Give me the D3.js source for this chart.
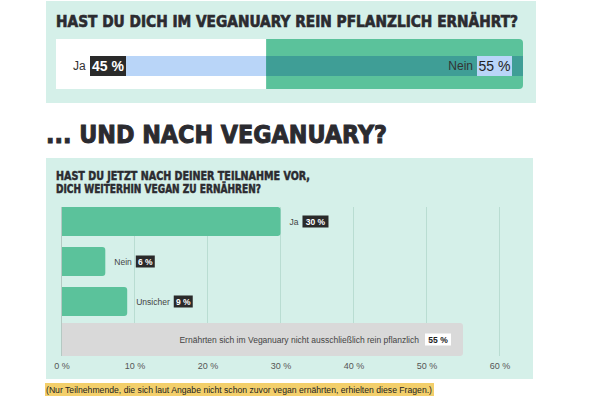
<!DOCTYPE html>
<html><head><meta charset="utf-8">
<script src="https://cdn.jsdelivr.net/npm/d3@7"></script>
<style>
html,body{margin:0;padding:0;background:#fff;}
svg{display:block;}
</style></head>
<body>
<svg id="c" width="600" height="400"></svg>
<script>
// ---- data ----
const topTitle = "HAST DU DICH IM VEGANUARY REIN PFLANZLICH ERNÄHRT?";
const topCategories = ["Ja", "Nein"];
const topValues = [45, 55];

const headline = "... UND NACH VEGANUARY?";
const subtitleLines = ["HAST DU JETZT NACH DEINER TEILNAHME VOR,", "DICH WEITERHIN VEGAN ZU ERNÄHREN?"];
const categories = ["Ja", "Nein", "Unsicher", "Ernährten sich im Veganuary nicht ausschließlich rein pflanzlich"];
const values = [30, 6, 9, 55];
const tickValues = [0, 10, 20, 30, 40, 50, 60];
const tickLabels = ["0 %", "10 %", "20 %", "30 %", "40 %", "50 %", "60 %"];
const footnote = "(Nur Teilnehmende, die sich laut Angabe nicht schon zuvor vegan ernährten, erhielten diese Fragen.)";

// ---- style ----
const mint = "#d5f0e9", green = "#5bc29b", teal = "#3f9e96", blue = "#b9d5f8",
      dark = "#2b2b30", grid = "#b9ddd2", grey = "#d9d9d9";
const titleFont = "'DejaVu Sans Condensed', 'DejaVu Sans', sans-serif";
const bodyFont = "'Liberation Sans', Arial, sans-serif";

const svg = d3.select("#c");

// ===== top panel =====
svg.append("rect").attr("x", 46).attr("y", 1).attr("width", 490).attr("height", 102).attr("fill", mint);
svg.append("text").attr("x", 56).attr("y", 27).text(topTitle)
  .attr("font-family", titleFont).attr("font-weight", "bold").attr("font-size", 15.5)
  .attr("fill", dark).attr("stroke", dark).attr("stroke-width", 0.6)
  .attr("textLength", 462).attr("lengthAdjust", "spacingAndGlyphs");

const xt = d3.scaleLinear().domain([0, 100]).range([56, 523]);
const y0 = 39, h0 = 50, bandY = 56, bandH = 20;
// Ja segment (white)
svg.append("rect").attr("x", xt(0)).attr("y", y0).attr("width", xt(topValues[0]) - xt(0)).attr("height", h0).attr("fill", "#fff");
// Nein segment (green, rounded right)
const gx0 = xt(topValues[0]), gx1 = xt(topValues[0] + topValues[1]), r = 4;
svg.append("path").attr("fill", green)
  .attr("d", `M${gx0},${y0} H${gx1 - r} Q${gx1},${y0} ${gx1},${y0 + r} V${y0 + h0 - r} Q${gx1},${y0 + h0} ${gx1 - r},${y0 + h0} H${gx0} Z`);
// bands
svg.append("rect").attr("x", 90).attr("y", bandY).attr("width", gx0 - 90).attr("height", bandH).attr("fill", blue);
svg.append("rect").attr("x", gx0).attr("y", bandY).attr("width", gx1 - gx0).attr("height", bandH).attr("fill", teal);
// Ja label
svg.append("text").attr("x", 73).attr("y", bandY + 14).text(topCategories[0])
  .attr("font-family", bodyFont).attr("font-size", 12).attr("fill", "#333");
svg.append("rect").attr("x", 90).attr("y", bandY).attr("width", 36).attr("height", bandH).attr("fill", "#2a2a2a");
svg.append("text").attr("x", 108).attr("y", bandY + 15).attr("text-anchor", "middle").text(topValues[0] + " %")
  .attr("font-family", bodyFont).attr("font-weight", "bold").attr("font-size", 14).attr("fill", "#fff");
// Nein label
svg.append("rect").attr("x", 477).attr("y", bandY).attr("width", 35).attr("height", bandH).attr("fill", blue);
svg.append("text").attr("x", 494.5).attr("y", bandY + 15).attr("text-anchor", "middle").text(topValues[1] + " %")
  .attr("font-family", bodyFont).attr("font-size", 14).attr("fill", "#222");
svg.append("text").attr("x", 473).attr("y", bandY + 14).attr("text-anchor", "end").text(topCategories[1])
  .attr("font-family", bodyFont).attr("font-size", 12).attr("fill", "#333");

// ===== headline =====
svg.append("text").attr("x", 46).attr("y", 143).text(headline)
  .attr("font-family", titleFont).attr("font-weight", "bold").attr("font-size", 24)
  .attr("fill", dark).attr("stroke", dark).attr("stroke-width", 0.9)
  .attr("textLength", 341).attr("lengthAdjust", "spacingAndGlyphs");

// ===== bottom panel =====
svg.append("rect").attr("x", 46).attr("y", 158).attr("width", 487).attr("height", 221).attr("fill", mint);
svg.selectAll("text.sub").data(subtitleLines).enter().append("text").attr("class", "sub")
  .attr("x", 56).attr("y", (d, i) => 180 + i * 13.3).text(d => d)
  .attr("font-family", titleFont).attr("font-weight", "bold").attr("font-size", 12.5)
  .attr("fill", dark).attr("stroke", dark).attr("stroke-width", 0.5)
  .attr("textLength", (d, i) => i === 0 ? 254 : 205).attr("lengthAdjust", "spacingAndGlyphs");

const x = d3.scaleLinear().domain([0, 60]).range([61.5, 499.5]);
const y = d3.scaleBand().domain(categories).range([196, 367]).padding(0.275);
const gTop = y(categories[0]), gBot = y(categories[3]) + y.bandwidth();

// grid
svg.append("g").selectAll("line").data(tickValues.filter(d => d > 0)).enter().append("line")
  .attr("x1", d => x(d)).attr("x2", d => x(d)).attr("y1", gTop).attr("y2", gBot)
  .attr("stroke", grid).attr("stroke-width", 1);

// axis
const axis = d3.axisBottom(x).tickValues(tickValues).tickFormat((d, i) => tickLabels[i]).tickSize(0).tickPadding(0);
const ag = svg.append("g").attr("transform", `translate(0,${gBot + 5})`).call(axis);
ag.select(".domain").remove();
ag.selectAll("text").attr("font-family", bodyFont).attr("font-size", 9).attr("fill", "#555").attr("dy", "0.9em");

// bars
function barPath(x0, yy, w, h, rr) {
  const x1 = x0 + w;
  return `M${x0},${yy} H${x1 - rr} Q${x1},${yy} ${x1},${yy + rr} V${yy + h - rr} Q${x1},${yy + h} ${x1 - rr},${yy + h} H${x0} Z`;
}
categories.forEach((c, i) => {
  const last = i === categories.length - 1;
  const yy = last ? y(c) - 4 : y(c);
  const hh = last ? y.bandwidth() + 4 : y.bandwidth();
  svg.append("path").attr("d", barPath(x(0), yy, x(values[i]) - x(0), hh, 3)).attr("fill", last ? grey : green);
});
// zero line
svg.append("line").attr("x1", x(0)).attr("x2", x(0)).attr("y1", gTop).attr("y2", gBot).attr("stroke", "#b5c9c3");

// labels
categories.forEach((c, i) => {
  const last = i === categories.length - 1;
  const cy = y(c) + y.bandwidth() / 2 + (last ? -2 : 0);
  const g = svg.append("g");
  if (!last) {
    const t = g.append("text").attr("x", x(values[i]) + 9).attr("y", cy + 3).text(c)
      .attr("font-family", bodyFont).attr("font-size", 8.5).attr("fill", "#444");
    const tw = t.node().getComputedTextLength();
    const bx = x(values[i]) + 9 + tw + 4;
    const lbl = values[i] + " %";
    const bw = lbl.length > 3 ? 26 : 19;
    g.append("rect").attr("x", bx).attr("y", cy - 6).attr("width", bw).attr("height", 12).attr("fill", "#2a2a2a");
    g.append("text").attr("x", bx + bw / 2).attr("y", cy + 3).attr("text-anchor", "middle").text(lbl)
      .attr("font-family", bodyFont).attr("font-weight", "bold").attr("font-size", 8.5).attr("fill", "#fff");
  } else {
    const bw = 26, bx = x(values[i]) - 12 - bw;
    g.append("rect").attr("x", bx).attr("y", cy - 6).attr("width", bw).attr("height", 12).attr("fill", "#fff");
    g.append("text").attr("x", bx + bw / 2).attr("y", cy + 3).attr("text-anchor", "middle").text(values[i] + " %")
      .attr("font-family", bodyFont).attr("font-weight", "bold").attr("font-size", 8.5).attr("fill", "#222");
    g.append("text").attr("x", bx - 6).attr("y", cy + 3).attr("text-anchor", "end").text(c)
      .attr("font-family", bodyFont).attr("font-size", 8.5).attr("fill", "#444");
  }
});

// footnote
svg.append("rect").attr("x", 45).attr("y", 383).attr("width", 389).attr("height", 13).attr("fill", "#f3cf6b");
svg.append("text").attr("x", 46).attr("y", 393).text(footnote)
  .attr("font-family", bodyFont).attr("font-size", 8.5).attr("fill", "#222")
  .attr("textLength", 386).attr("lengthAdjust", "spacingAndGlyphs");
</script>
</body></html>
